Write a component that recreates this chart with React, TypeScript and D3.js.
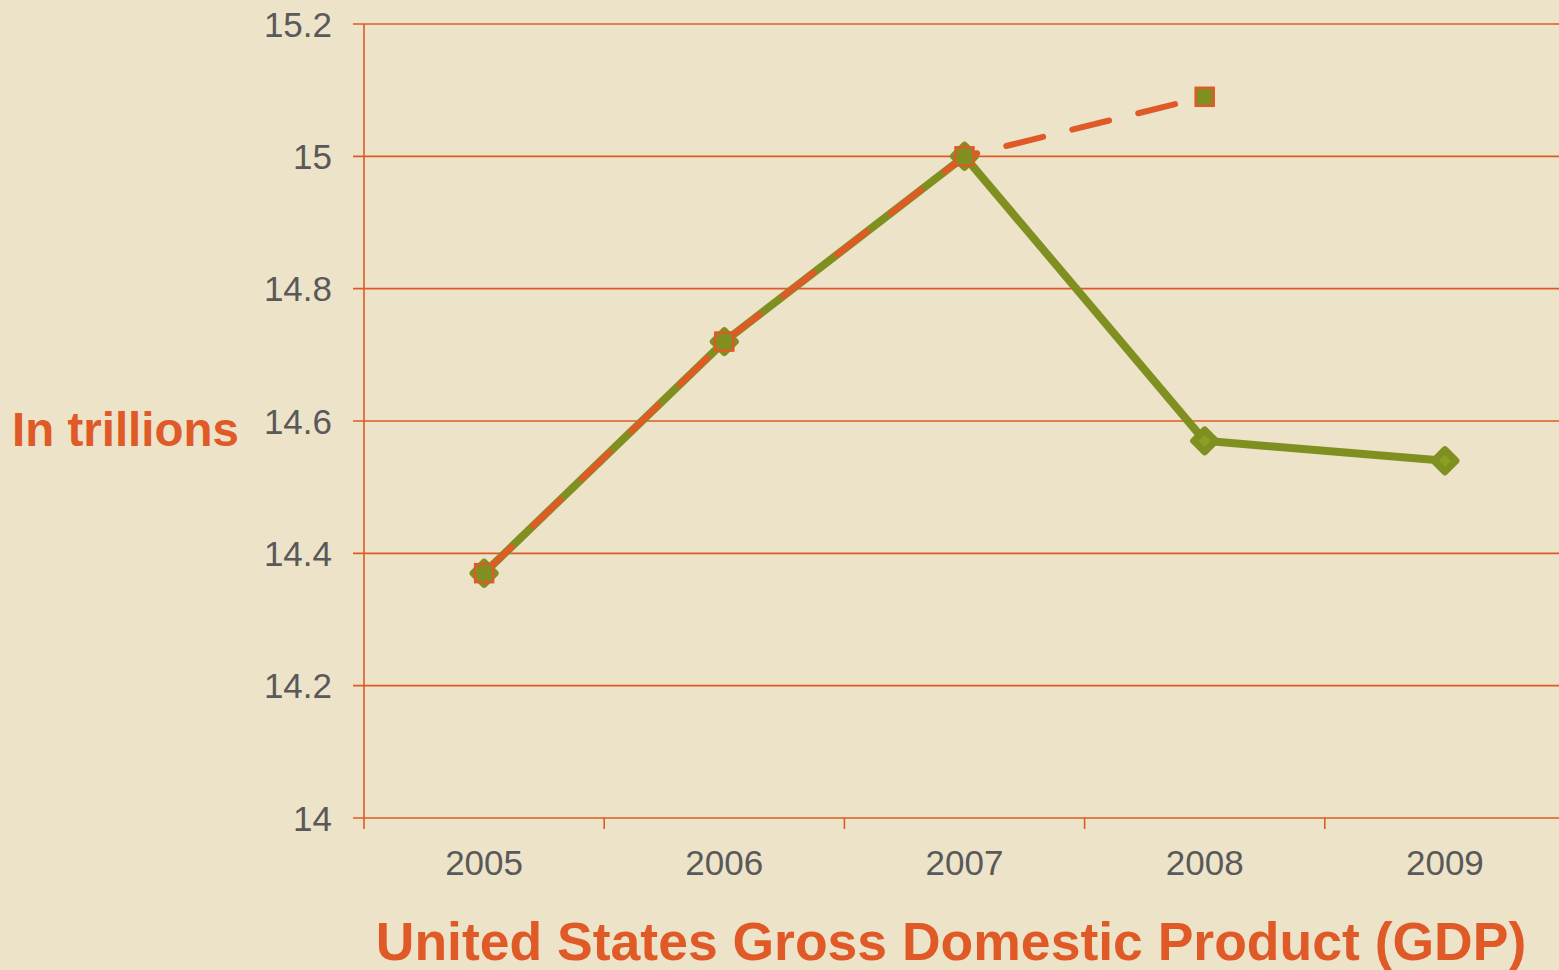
import React, { useEffect, useRef } from 'react';
import * as d3 from 'd3';

const years = ['2005', '2006', '2007', '2008', '2009'];
const actualGdp = [14.37, 14.72, 15.0, 14.57, 14.54];
const projectedYears = ['2005', '2006', '2007', '2008'];
const projectedGdp = [14.37, 14.72, 15.0, 15.09];
const yTicks = [14, 14.2, 14.4, 14.6, 14.8, 15, 15.2];

const App: React.FC = () => {
  const svgRef = useRef<SVGSVGElement>(null);

  useEffect(() => {
    if (!svgRef.current) return;
    const svg = d3.select(svgRef.current);
    svg.selectAll('*').remove();

    const width = 1559;
    const height = 970;
    const orange = '#DF5A26';
    const green = '#7F9021';
    const greenLight = '#8C9E24';
    const gray = '#595959';
    const font = 'Liberation Sans, Arial, sans-serif';

    const left = 364;
    const right = 1565;
    const top = 24;
    const bottom = 818;

    svg.append('rect')
      .attr('width', width)
      .attr('height', height)
      .attr('fill', '#EDE3C9');

    const x = d3.scaleBand<string>().domain(years).range([left, right]);
    const y = d3.scaleLinear().domain([14, 15.2]).range([bottom, top]);
    const cx = (d: string) => (x(d) ?? 0) + x.bandwidth() / 2;

    // gridlines + left tick stubs
    svg.append('g')
      .selectAll('line')
      .data(yTicks)
      .join('line')
      .attr('x1', left - 11)
      .attr('x2', width)
      .attr('y1', d => y(d))
      .attr('y2', d => y(d))
      .attr('stroke', orange)
      .attr('stroke-width', 1.6);

    // y axis line
    svg.append('line')
      .attr('x1', left).attr('x2', left)
      .attr('y1', top).attr('y2', bottom + 11)
      .attr('stroke', orange)
      .attr('stroke-width', 1.6);

    // x tick marks at band boundaries
    const boundaries = years.map(d => x(d) ?? 0).concat([right]);
    svg.append('g')
      .selectAll('line')
      .data(boundaries.slice(1))
      .join('line')
      .attr('x1', d => d).attr('x2', d => d)
      .attr('y1', bottom).attr('y2', bottom + 11)
      .attr('stroke', orange)
      .attr('stroke-width', 1.6);

    // y tick labels
    svg.append('g')
      .selectAll('text')
      .data(yTicks)
      .join('text')
      .attr('x', 332)
      .attr('y', d => y(d))
      .attr('dy', '0.36em')
      .attr('text-anchor', 'end')
      .style('font-family', font)
      .style('font-size', '35px')
      .style('fill', gray)
      .text(d => d3.format('~g')(d));

    // x tick labels
    svg.append('g')
      .selectAll('text')
      .data(years)
      .join('text')
      .attr('x', d => cx(d))
      .attr('y', 862)
      .attr('dy', '0.36em')
      .attr('text-anchor', 'middle')
      .style('font-family', font)
      .style('font-size', '35px')
      .style('fill', gray)
      .text(d => d);

    const line = d3.line<[string, number]>()
      .x(d => cx(d[0]))
      .y(d => y(d[1]));

    const actual = years.map((d, i) => [d, actualGdp[i]] as [string, number]);
    const projected = projectedYears.map((d, i) => [d, projectedGdp[i]] as [string, number]);

    // actual GDP line
    svg.append('path')
      .attr('d', line(actual))
      .attr('fill', 'none')
      .attr('stroke', green)
      .attr('stroke-width', 8)
      .attr('stroke-linejoin', 'round');

    // diamond markers
    svg.append('g')
      .selectAll('path')
      .data(actual)
      .join('path')
      .attr('transform', d => `translate(${cx(d[0])},${y(d[1])})`)
      .attr('d', 'M0,-11L11,0L0,11L-11,0Z')
      .attr('fill', greenLight)
      .attr('stroke', green)
      .attr('stroke-width', 7)
      .attr('stroke-linejoin', 'round');

    // projected line (dashed)
    svg.append('path')
      .attr('d', line(projected))
      .attr('fill', 'none')
      .attr('stroke', orange)
      .attr('stroke-width', 6)
      .attr('stroke-linecap', 'round')
      .attr('stroke-dasharray', '38,30');

    // square markers
    svg.append('g')
      .selectAll('rect')
      .data(projected)
      .join('rect')
      .attr('x', d => cx(d[0]) - 9)
      .attr('y', d => y(d[1]) - 9)
      .attr('width', 18)
      .attr('height', 18)
      .attr('fill', green)
      .attr('stroke', orange)
      .attr('stroke-width', 2.5);

    // axis titles
    svg.append('text')
      .attr('x', 12)
      .attr('y', 429)
      .attr('dy', '0.36em')
      .style('font-family', font)
      .style('font-size', '47.5px')
      .style('font-weight', '700')
      .style('fill', orange)
      .text('In trillions');

    svg.append('text')
      .attr('x', 951)
      .attr('y', 960)
      .attr('text-anchor', 'middle')
      .style('font-family', font)
      .style('font-size', '53.5px')
      .style('font-weight', '700')
      .style('fill', orange)
      .text('United States Gross Domestic Product (GDP)');
  }, []);

  return (
    <svg
      ref={svgRef}
      width={1559}
      height={970}
      style={{ position: 'absolute', left: 0, top: 0, display: 'block' }}
    />
  );
};

export default App;
